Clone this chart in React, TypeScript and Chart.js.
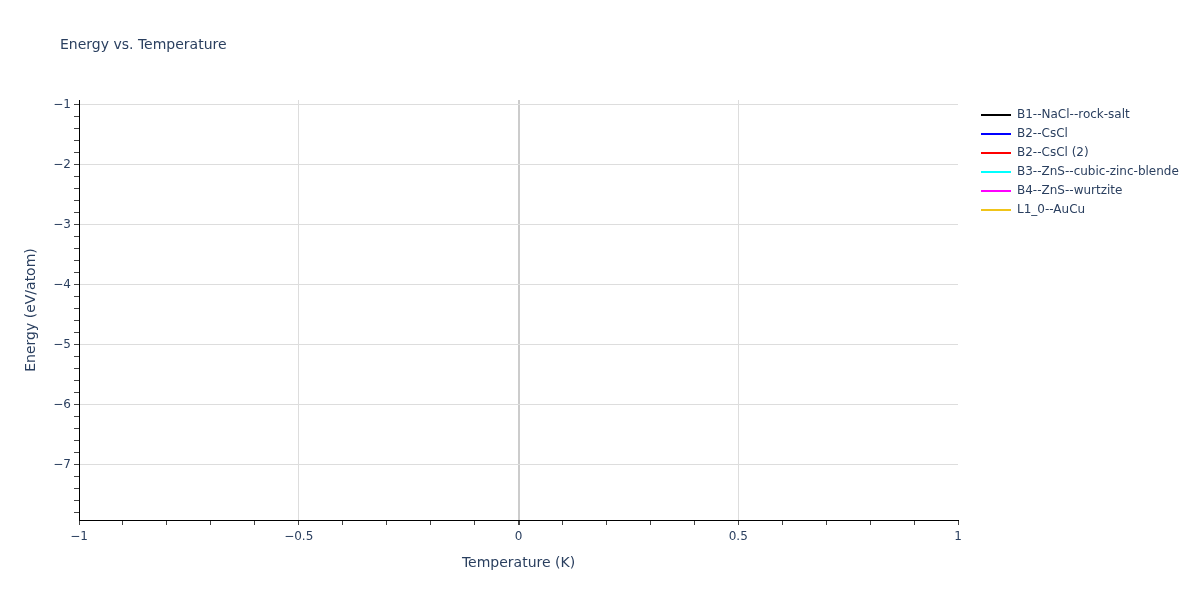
import React, { useEffect, useRef } from "react";
import { Chart, registerables } from "chart.js";

Chart.register(...registerables);

const seriesNames = [
  "B1--NaCl--rock-salt",
  "B2--CsCl",
  "B2--CsCl (2)",
  "B3--ZnS--cubic-zinc-blende",
  "B4--ZnS--wurtzite",
  "L1_0--AuCu",
];
const seriesColors = ["#000000", "#0000ff", "#ff0000", "#00ffff", "#ff00ff", "#f0c419"];
// one point per structure, at T = 0 K
const temperatures = [0];
const energies = [[-3.52], [-1.27], [-2.91], [-7.57], [-7.49], [-4.18]];

const xMin = -1;
const xMax = 1;
const yMin = -7.917;
const yMax = -0.917;
const xMinorStep = 0.1;
const xMajorStep = 0.5;
const yMinorStep = 0.2;
const yMajorStep = 1;

const fontFamily = '"DejaVu Sans", verdana, arial, sans-serif';
const textColor = "#2a3f5f";

const near = (v: number, step: number) => Math.abs(v / step - Math.round(v / step)) < 1e-6;
const fmt = (v: number) => String(Math.round(v * 10) / 10).replace("-", "\u2212");
const stepTicks = (min: number, max: number, step: number) => {
  const out: { value: number }[] = [];
  for (let k = Math.ceil(min / step - 1e-9); k <= Math.floor(max / step + 1e-9); k++) {
    out.push({ value: Math.round(k * step * 1000) / 1000 });
  }
  return out;
};

const titlePlugin = {
  id: "plotTitle",
  afterInit(chart: any) {
    // legend column width fixed, as in the original figure
    const lg = chart.legend;
    if (lg) {
      const fit = lg.fit.bind(lg);
      lg.fit = () => {
        fit();
        lg.width = 226;
      };
    }
  },
  afterDraw(chart: Chart) {
    const ctx = chart.ctx;
    ctx.save();
    ctx.font = `14px ${fontFamily}`;
    ctx.fillStyle = textColor;
    ctx.textBaseline = "middle";
    ctx.fillText("Energy vs. Temperature", 60, 45);
    ctx.restore();
  },
};

const App: React.FC = () => {
  const canvasRef = useRef<HTMLCanvasElement | null>(null);
  const chartRef = useRef<Chart | null>(null);

  useEffect(() => {
    if (!canvasRef.current) return;
    if (chartRef.current) chartRef.current.destroy();

    chartRef.current = new Chart(canvasRef.current, {
      type: "line",
      data: {
        datasets: seriesNames.map((name, i) => ({
          label: name,
          data: temperatures.map((t, j) => ({ x: t, y: energies[i][j] })),
          borderColor: seriesColors[i],
          backgroundColor: seriesColors[i],
          borderWidth: 2,
          pointRadius: 0,
          showLine: true,
        })),
      },
      options: {
        animation: false,
        responsive: true,
        maintainAspectRatio: false,
        layout: { padding: { top: 100, left: 0, right: 0, bottom: 0 } },
        plugins: {
          title: { display: false },
          tooltip: { enabled: false },
          legend: {
            position: "right",
            align: "start",
            title: { display: true, text: "", font: { size: 1, lineHeight: 2 }, padding: 0 },
            labels: {
              boxWidth: 30,
              boxHeight: 2,
              padding: 7,
              color: textColor,
              font: { family: fontFamily, size: 12 },
              generateLabels: (chart: Chart) =>
                Chart.defaults.plugins.legend.labels
                  .generateLabels(chart)
                  .map((l: any) => ({ ...l, lineWidth: 0 })),
            },
          },
        },
        scales: {
          x: {
            type: "linear",
            min: xMin,
            max: xMax,
            afterBuildTicks: (scale: any) => {
              scale.ticks = stepTicks(xMin, xMax, xMinorStep);
            },
            afterFit: (scale: any) => {
              scale.height = 80;
            },
            ticks: {
              autoSkip: false,
              maxRotation: 0,
              padding: 5,
              color: textColor,
              font: { family: fontFamily, size: 12 },
              callback: (v: any) => (near(Number(v), xMajorStep) ? fmt(Number(v)) : ""),
            },
            grid: {
              drawTicks: true,
              tickLength: 5,
              tickColor: "#444444",
              color: (c: any) => {
                if (!c.tick || !near(c.tick.value, xMajorStep) || c.tick.value >= xMax) {
                  return "rgba(0,0,0,0)";
                }
                return Math.abs(c.tick.value) < 1e-9 ? "#cccccc" : "#dddddd";
              },
              lineWidth: (c: any) => (c.tick && Math.abs(c.tick.value) < 1e-9 ? 2 : 1),
            },
            border: { display: true, color: "#000000", width: 1 },
            title: {
              display: true,
              text: "Temperature (K)",
              color: textColor,
              font: { family: fontFamily, size: 14 },
              padding: { top: 0, bottom: 28 },
            },
          },
          y: {
            type: "linear",
            min: yMin,
            max: yMax,
            afterBuildTicks: (scale: any) => {
              scale.ticks = stepTicks(yMin, yMax, yMinorStep);
            },
            afterFit: (scale: any) => {
              scale.width = 79;
            },
            ticks: {
              autoSkip: false,
              padding: 3,
              color: textColor,
              font: { family: fontFamily, size: 12 },
              callback: (v: any) => (near(Number(v), yMajorStep) ? fmt(Number(v)) : ""),
            },
            grid: {
              drawTicks: true,
              tickLength: 5,
              tickColor: "#444444",
              color: (c: any) => (c.tick && near(c.tick.value, yMajorStep) ? "#dddddd" : "rgba(0,0,0,0)"),
            },
            border: { display: true, color: "#000000", width: 1 },
            title: {
              display: true,
              text: "Energy (eV/atom)",
              color: textColor,
              font: { family: fontFamily, size: 14 },
              padding: { top: 23, bottom: 0 },
            },
          },
          // empty gap between the plot and the legend
          gap: {
            type: "linear",
            position: "right",
            display: true,
            afterFit: (scale: any) => {
              scale.width = 16;
            },
            ticks: { display: false },
            grid: { display: false, drawTicks: false },
            border: { display: false },
          },
        },
      },
      plugins: [titlePlugin],
    });

    return () => {
      if (chartRef.current) {
        chartRef.current.destroy();
        chartRef.current = null;
      }
    };
  }, []);

  return (
    <div
      style={{
        position: "absolute",
        left: 0,
        top: 0,
        width: 1200,
        height: 600,
        background: "#ffffff",
      }}
    >
      <canvas ref={canvasRef}></canvas>
    </div>
  );
};

export default App;
